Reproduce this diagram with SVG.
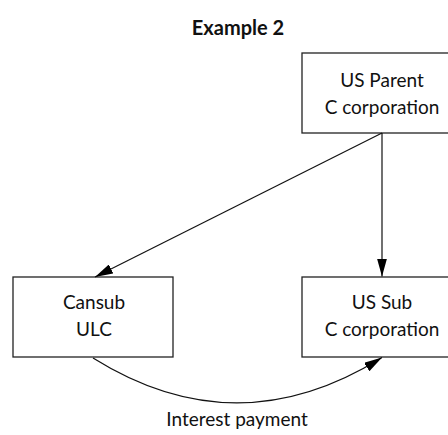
<svg xmlns="http://www.w3.org/2000/svg" width="448" height="435" viewBox="0 0 448 435">
<style>
.box{fill:#fff;stroke:#222;stroke-width:1.3}
.t{font-family:Lato,"Open Sans",sans-serif;font-size:19px;fill:#111;text-anchor:middle}
.title{font-family:Lato,"Open Sans",sans-serif;font-size:20px;font-weight:bold;fill:#111;text-anchor:middle}
.c{fill:none;stroke:#111;stroke-width:1.2}
</style>
<defs>
<marker id="ah" markerUnits="userSpaceOnUse" markerWidth="18" markerHeight="10" refX="18" refY="5" orient="auto" viewBox="0 0 18 10">
<path d="M0,0 L18,5 L0,10 z" fill="#000"/>
</marker>
</defs>
<text class="title" x="238" y="35">Example 2</text>
<g id="parent">
<rect class="box" x="302" y="53" width="170" height="80"/>
<text class="t" x="382" y="87">US Parent</text>
<text class="t" x="382" y="114">C corporation</text>
</g>
<g id="cansub">
<rect class="box" x="13" y="277" width="160" height="80"/>
<text class="t" x="94" y="309">Cansub</text>
<text class="t" x="94" y="336">ULC</text>
</g>
<g id="ussub">
<rect class="box" x="302" y="277" width="170" height="80"/>
<text class="t" x="382" y="309">US Sub</text>
<text class="t" x="382" y="336">C corporation</text>
</g>
<g id="connectors">
<line class="c" x1="382" y1="133" x2="382" y2="276.5" marker-end="url(#ah)"/>
<line class="c" x1="382" y1="133" x2="95" y2="277" marker-end="url(#ah)"/>
<path class="c" d="M93,358 Q237,448 382,357.5" marker-end="url(#ah)"/>
</g>
<text class="t" x="237" y="426">Interest payment</text>
</svg>
